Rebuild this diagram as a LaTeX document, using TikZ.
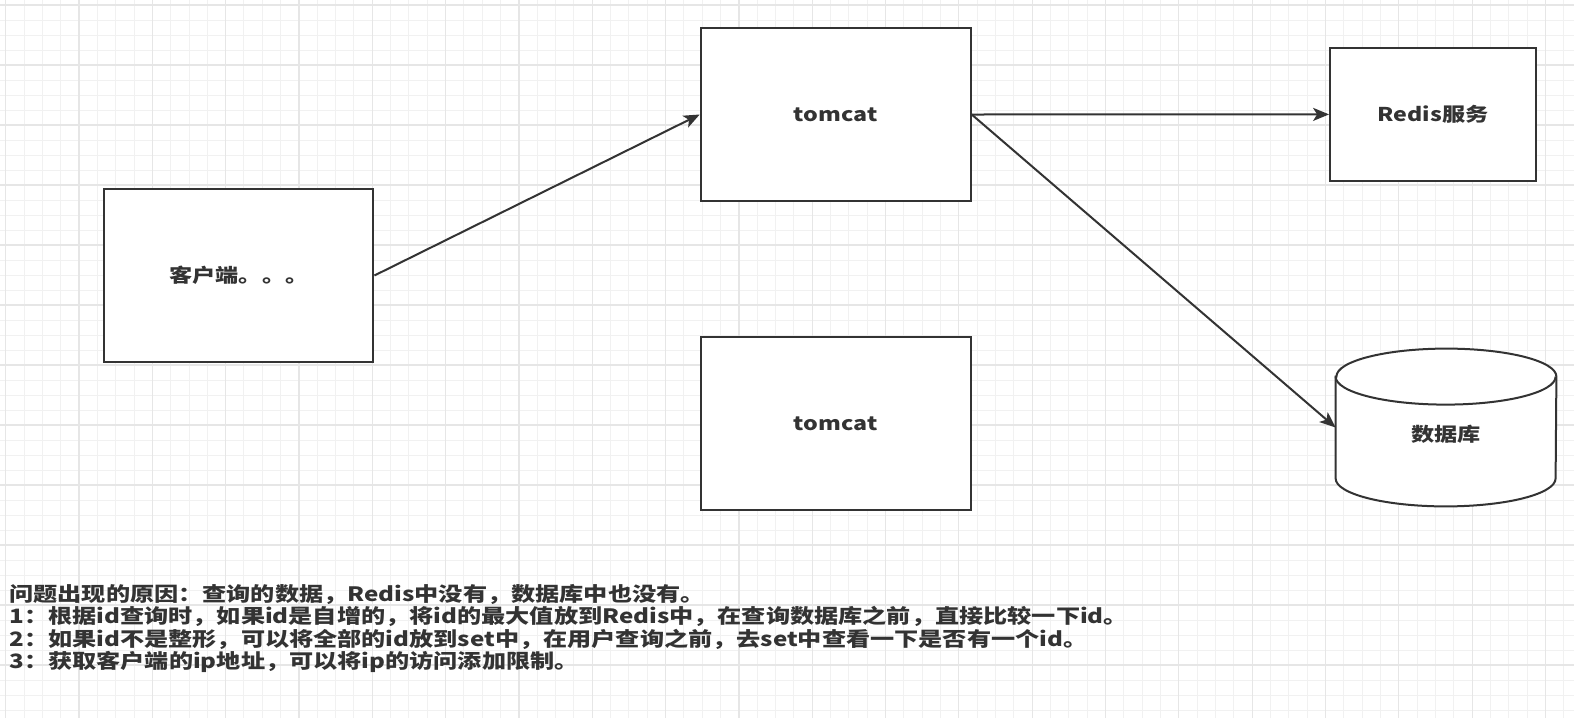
\documentclass[tikz,border=0pt]{standalone}
\usepackage{fontspec}
\setmainfont{Noto Sans CJK SC}[FakeStretch=1.22]
\usetikzlibrary{arrows.meta}

\definecolor{ink}{HTML}{333333}
\definecolor{grid_minor}{HTML}{F1F1F1}
\definecolor{grid_major}{HTML}{E6E6E6}

\tikzset{
  box_node/.style={draw=ink, line width=1pt, fill=white, text=ink, inner sep=0pt,
      font=\fontsize{9.5}{11}\selectfont\bfseries},
  db_line/.style={draw=ink, line width=1pt, fill=white},
  flow_arrow/.style={draw=ink, line width=1pt, -{Stealth[length=8pt,width=6.5pt,inset=2pt]}},
  note_text/.style={anchor=base west, inner sep=0pt, text=ink,
      font=\fontsize{9.9}{12}\selectfont\bfseries}
}
\def\GridX {18.33}
\def\GridY {15}

\begin{document}
\begin{tikzpicture}[x=0.5pt,y=-0.5pt]
        \useasboundingbox (0,0) rectangle (1574,718);
        \fill[white] (0,0) rectangle (1574,718);
        % grid
        \foreach \i in {0,1,...,85} {
            \draw[grid_minor, line width=0.5pt] ({5.7+\i*\GridX},0) -- ({5.7+\i*\GridX},718);
          }
        \foreach \i in {0,1,...,47} {
            \draw[grid_minor, line width=0.5pt] (0,{5+\i*\GridY}) -- (1574,{5+\i*\GridY});
          }
        \foreach \i in {0,4,...,84} {
            \draw[grid_major, line width=0.6pt] ({5.7+\i*\GridX},0) -- ({5.7+\i*\GridX},718);
          }
        \foreach \i in {0,4,...,44} {
            \draw[grid_major, line width=0.6pt] (0,{5+\i*\GridY}) -- (1574,{5+\i*\GridY});
          }

        \node[box_node, minimum width=134.5pt, minimum height=86.9pt] (client) at (238.9,275.5) {客户端。。。};
        \node[box_node, minimum width=135pt, minimum height=86.3pt] (tomcat_a) at (835.7,114.5) {\raisebox{-0.5pt}{tomcat}};
        \node[box_node, minimum width=135pt, minimum height=86.3pt] (tomcat_b) at (835.7,423.6) {\raisebox{-0.5pt}{tomcat}};
        \node[box_node, minimum width=102.9pt, minimum height=66.2pt] (redis) at (1433,114.4) {Redis服务};

        % database cylinder
        \node[minimum width=110pt, minimum height=78.5pt, inner sep=0pt] (db) at (1446,427.5) {};
        \draw[db_line] ([yshift=-14pt]db.north west) -- ([yshift=14pt]db.south west)
            arc[start angle=180, end angle=360, x radius=55pt, y radius=14pt]
            -- ([yshift=-14pt]db.north east)
            arc[start angle=0, end angle=180, x radius=55pt, y radius=14pt] -- cycle;
        \draw[db_line, fill=none] ([yshift=-14pt]db.north west)
            arc[start angle=180, end angle=360, x radius=55pt, y radius=14pt];
        \node[text=ink, font=\fontsize{9.5}{11}\selectfont\bfseries] (db_label) at ([yshift=-3.6pt]db.center) {数据库};

        \draw[flow_arrow] (client.east) -- (tomcat_a.west);
        \draw[flow_arrow] (tomcat_a.east) -- (redis.west);
        \draw[flow_arrow] (tomcat_a.east) -- (db.west);

        % notes
        \foreach \y/\txt in {
            601/{问题出现的原因：查询的数据，Redis中没有，数据库中也没有。},
            623.6/{1：根据id查询时，如果id是自增的，将id的最大值放到Redis中，在查询数据库之前，直接比较一下id。},
            646.2/{2：如果id不是整形，可以将全部的id放到set中，在用户查询之前，去set中查看一下是否有一个id。},
            668.8/{3：获取客户端的ip地址，可以将ip的访问添加限制。}} {
            \node[note_text] (note_\y) at (9,\y) {\txt};
          }
      \end{tikzpicture}
\end{document}
